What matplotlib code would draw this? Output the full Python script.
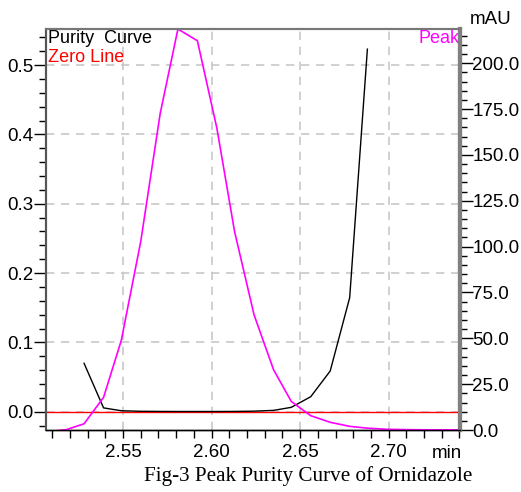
import matplotlib
matplotlib.use("Agg")
import matplotlib.pyplot as plt
from matplotlib.ticker import MultipleLocator, FormatStrFormatter

# ---- data ----
peak_time = [2.507, 2.518, 2.528, 2.539, 2.549, 2.560, 2.571, 2.581, 2.592, 2.603,
             2.613, 2.624, 2.635, 2.645, 2.656, 2.667, 2.678, 2.688, 2.699, 2.710,
             2.721, 2.731, 2.742]
peak_mau = [-1.0, 0.2, 3.4, 17.8, 48.8, 102.8, 172.7, 218.7, 212.3, 164.6,
            108.2, 62.8, 32.9, 15.6, 7.8, 4.2, 2.0, 1.0, 0.4, 0.2,
            0.1, 0.1, 0.1]
purity_time = [2.528, 2.539, 2.549, 2.560, 2.571, 2.581, 2.592, 2.603, 2.613, 2.624,
               2.635, 2.645, 2.656, 2.667, 2.678, 2.688]
purity_val = [0.0698, 0.0055, 0.0014, 0.0006, 0.0004, 0.0003, 0.0003, 0.0003, 0.0004, 0.0008,
              0.0019, 0.0063, 0.0216, 0.0587, 0.1645, 0.523]
x_ticks = [2.55, 2.60, 2.65, 2.70]
left_ticks = [0.0, 0.1, 0.2, 0.3, 0.4, 0.5]
right_ticks = [0, 25, 50, 75, 100, 125, 150, 175, 200]

plt.rcParams['font.family'] = ['Liberation Sans', 'DejaVu Sans']

fig = plt.figure(figsize=(5.21, 4.92), dpi=100)
ax = fig.add_axes([0.0883, 0.126, 0.8829 - 0.0883, 0.941 - 0.126])
ax2 = ax.twinx()

ax.set_xlim(2.5065, 2.7403)
ax.set_ylim(-0.0264, 0.552)
ax2.set_ylim(0, 218.7)

# grid
ax.set_xticks(x_ticks)
ax.set_yticks(left_ticks)
ax.grid(True, color='#c8c8c8', linestyle=(0, (5, 4)), linewidth=1.2)
ax.set_axisbelow(True)

# zero line
ax.axhline(0.0, color='#ff0000', linewidth=1.0, zorder=2)
# purity curve
ax.plot(purity_time, purity_val, color='black', linewidth=1.0, zorder=3)
# peak
ax2.plot(peak_time, peak_mau, color='#ff00ff', linewidth=1.2, zorder=2)

fs = 13.5
fs_in = 13
ax.xaxis.set_minor_locator(MultipleLocator(0.01))
ax.yaxis.set_minor_locator(MultipleLocator(0.02))
ax.xaxis.set_major_formatter(FormatStrFormatter('%.2f'))
ax.yaxis.set_major_formatter(FormatStrFormatter('%.1f'))
ax2.set_yticks(right_ticks)
ax2.yaxis.set_minor_locator(MultipleLocator(5))
ax2.yaxis.set_major_formatter(FormatStrFormatter('%.1f'))

ax.tick_params(axis='x', which='both', direction='out', length=6, width=1, labelsize=fs, pad=4)
ax.tick_params(axis='y', which='major', direction='out', length=9, width=1, labelsize=fs, pad=0)
ax.tick_params(axis='y', which='minor', direction='out', length=5, width=1)
ax2.tick_params(axis='y', which='major', direction='out', length=9, width=1, labelsize=fs, pad=0)
ax2.tick_params(axis='y', which='minor', direction='out', length=5, width=1)

for a in (ax, ax2):
    a.spines['left'].set_color('#555555')
    a.spines['left'].set_linewidth(1.5)
    a.spines['top'].set_color('#777777')
    a.spines['top'].set_linewidth(1.5)
    a.spines['right'].set_color('#808080')
    a.spines['right'].set_linewidth(3)
    a.spines['bottom'].set_color('black')
    a.spines['bottom'].set_linewidth(1)

# labels inside
ax.text(0.004, 0.997, 'Purity  Curve', transform=ax.transAxes, ha='left', va='top',
        fontsize=fs_in, color='black')
ax.text(0.004, 0.949, 'Zero Line', transform=ax.transAxes, ha='left', va='top',
        fontsize=fs_in, color='#ff0000')
ax.text(0.998, 0.997, 'Peak', transform=ax.transAxes, ha='right', va='top',
        fontsize=fs_in, color='#ff00ff')

fig.text(491 / 521, 1 - 20 / 492, 'mAU', ha='center', va='center', fontsize=fs)
fig.text(447 / 521, 1 - 453 / 492, 'min', ha='center', va='center', fontsize=fs)
fig.text(308 / 521, 1 - 476 / 492, 'Fig-3 Peak Purity Curve of Ornidazole', ha='center',
         va='center', fontsize=15.2, family=['Liberation Serif', 'DejaVu Serif'])

fig.savefig('out.png', dpi=100)
